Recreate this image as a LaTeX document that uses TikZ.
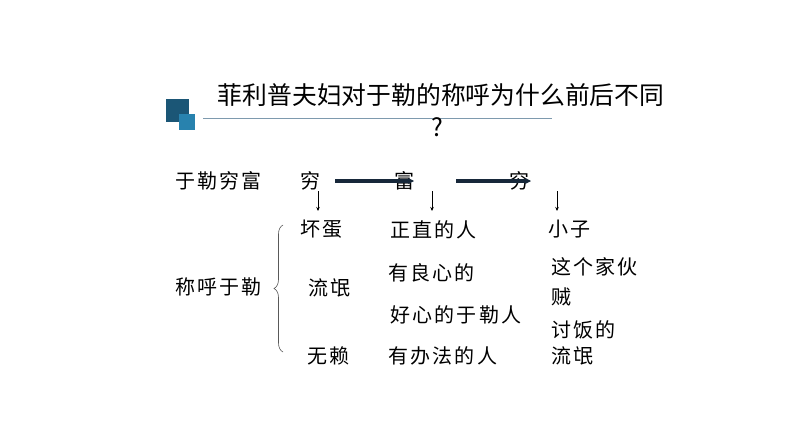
\documentclass[tikz,border=0pt]{standalone}
\usepackage{fontspec}
\setmainfont{Noto Sans CJK SC}
\newfontfamily\cjk{Noto Sans CJK SC}
\newfontfamily\cjkbody[LetterSpace=11]{Noto Sans CJK SC}
\usetikzlibrary{arrows.meta,decorations.pathreplacing}
\definecolor{darksq}{HTML}{1B5676}
\definecolor{lightsq}{HTML}{2882AE}
\definecolor{rulec}{HTML}{7E9AAE}
\definecolor{navy}{HTML}{17283A}
\begin{document}
\begin{tikzpicture}[x=1pt,y=-1pt,
  txt/.style={anchor=west,inner sep=0pt,font=\cjkbody\fontsize{20}{22}\selectfont},
  ttl/.style={inner sep=0pt,font=\cjk\fontsize{24.8}{26}\selectfont},
  harrow/.style={draw=navy,line width=3.2pt,-{Stealth[length=6pt,width=6pt]}},
  varrow/.style={draw=black,line width=0.6pt,-{Stealth[length=4pt,width=3.5pt]}}]
\useasboundingbox (0,0) rectangle (794,447);
\fill[white] (0,0) rectangle (794,447);
% decoration squares and rule
\fill[darksq] (166,99) rectangle (189,122);
\fill[lightsq] (179,114) rectangle (195,130);
\draw[rulec,line width=0.9pt] (203,118) -- (552,118);
% title
\node[ttl] (title) at (441,95) {菲利普夫妇对于勒的称呼为什么前后不同};
\node[ttl] (qm) at (437,127) {?};
% row 1
\node[txt] (fu) at (175,181) {于勒穷富};
\node[txt] (q1) at (300,181) {穷};
\node[txt] (f1) at (394,181) {富};
\node[txt] (q2) at (509,181) {穷};
% row 2
\node[txt] (hd) at (300,229) {坏蛋};
\node[txt] (zz) at (390,230) {正直的人};
\node[txt] (xz) at (548,229) {小子};
% middle
\node[txt] (ch) at (175,287) {称呼于勒};
\node[txt] (lm1) at (308,288) {流氓};
\node[txt] (ylx) at (388,273) {有良心的};
\node[txt] (zgjh) at (551,267) {这个家伙};
\node[txt] (zei) at (551,297) {贼};
\node[txt] (hx) at (390,315) {好心的于勒人};
\node[txt] (tf) at (551,330) {讨饭的};
% bottom
\node[txt] (wl) at (307,356) {无赖};
\node[txt] (ybf) at (388,356) {有办法的人};
\node[txt] (lm2) at (551,356) {流氓};
% horizontal arrows
\coordinate (h1s) at (335,181);
\coordinate (h1e) at (414,181);
\coordinate (h2s) at (456,181);
\coordinate (h2e) at (531,181);
\draw[harrow] (h1s) -- (h1e);
\draw[harrow] (h2s) -- (h2e);
% down arrows
\coordinate (d1s) at (318,191); \coordinate (d1e) at (318,211);
\coordinate (d2s) at (432,191); \coordinate (d2e) at (432,211);
\coordinate (d3s) at (557,191); \coordinate (d3e) at (557,211);
\draw[varrow] (d1s) -- (d1e);
\draw[varrow] (d2s) -- (d2e);
\draw[varrow] (d3s) -- (d3e);
% brace
\coordinate (bb) at (283,352);
\coordinate (bt) at (283,225);
\draw[gray!70!black,line width=0.6pt,decorate,decoration={brace,amplitude=9pt}] (bb) -- (bt);
\end{tikzpicture}
\end{document}
